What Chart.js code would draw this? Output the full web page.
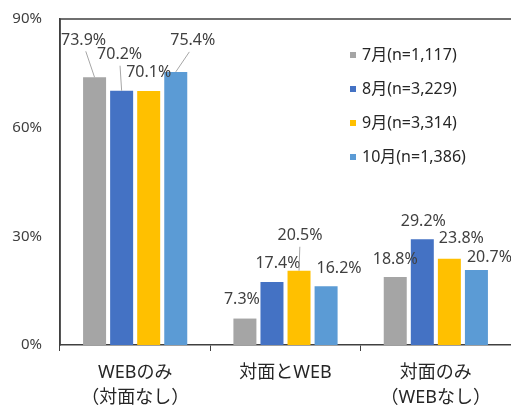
<!DOCTYPE html>
<html>
<head>
<meta charset="utf-8">
<script src="https://cdn.jsdelivr.net/npm/chart.js@4"></script>
<style>
body { margin: 0; background: #fff; }
</style>
</head>
<body>
<canvas id="myChart" width="511" height="406"></canvas>
<script>
// data
var categories = [['WEBのみ', '（対面なし）'], '対面とWEB', ['対面のみ', '（WEBなし）']];
var months = ['7月(n=1,117)', '8月(n=3,229)', '9月(n=3,314)', '10月(n=1,386)'];
var jul = [73.9, 7.3, 18.8];
var aug = [70.2, 17.4, 29.2];
var sep = [70.1, 20.5, 23.8];
var oct = [75.4, 16.2, 20.7];
var yTicks = [0, 30, 60, 90];

var colors = ['#a5a5a5', '#4472c4', '#ffc000', '#5b9bd5'];

// label offsets from bar top [dx, dy, leader line]
var labelPos = [
    [[-11, -37, true], [-3, -19, false], [0, -17, false]],
    [[-2, -36, true], [6, -19, false], [1, -18, false]],
    [[0, -19, false], [1, -35, true], [12, -20, false]],
    [[17, -31, true], [13, -18, false], [13, -13, false]]
];

var font = '"Noto Sans", "Noto Sans CJK JP", sans-serif';

var labelPlugin = {
    id: 'labels',
    afterDatasetsDraw: function (chart) {
        var ctx = chart.ctx;
        ctx.save();
        ctx.font = '16px ' + font;
        ctx.fillStyle = '#404040';
        ctx.textAlign = 'center';
        ctx.textBaseline = 'middle';
        chart.data.datasets.forEach(function (ds, i) {
            var meta = chart.getDatasetMeta(i);
            meta.data.forEach(function (bar, j) {
                var p = labelPos[i][j];
                var lx = bar.x + p[0], ly = bar.y + p[1];
                if (p[2]) {
                    ctx.strokeStyle = '#a6a6a6';
                    ctx.lineWidth = 1;
                    ctx.beginPath();
                    ctx.moveTo(lx + (bar.x - lx) * 0.2, ly + 11);
                    ctx.lineTo(bar.x, bar.y);
                    ctx.stroke();
                }
                ctx.fillText(ds.data[j].toFixed(1) + '%', lx, ly);
            });
        });
        // frame
        var a = chart.chartArea;
        ctx.strokeStyle = '#404040';
        ctx.lineWidth = 1.5;
        ctx.beginPath();
        ctx.moveTo(a.left, a.bottom);
        ctx.lineTo(a.left, a.top);
        ctx.lineTo(a.right, a.top);
        ctx.stroke();
        // legend
        ctx.textAlign = 'left';
        chart.data.datasets.forEach(function (ds, i) {
            var y = 55 + i * 34;
            ctx.fillStyle = ds.backgroundColor;
            ctx.fillRect(350, y - 3, 6, 6);
            ctx.fillStyle = '#262626';
            ctx.fillText(ds.label, 362, y);
        });
        ctx.restore();
    }
};

var series = [jul, aug, sep, oct];
var chartdata = {
    labels: categories,
    datasets: series.map(function (s, i) {
        return {
            label: months[i],
            data: s,
            backgroundColor: colors[i],
            categoryPercentage: 0.72,
            barPercentage: 0.85
        };
    })
};

var ctx = document.getElementById('myChart');
var myChart = new Chart(ctx, {
    type: 'bar',
    data: chartdata,
    plugins: [labelPlugin],
    options: {
        responsive: false,
        animation: false,
        layout: { padding: { top: 6, right: 0, left: 0, bottom: 0 } },
        plugins: { legend: { display: false }, tooltip: { enabled: false } },
        scales: {
            x: {
                grid: { drawOnChartArea: false, tickLength: 6, color: '#404040', offset: true },
                border: { color: '#404040', width: 1.5 },
                ticks: { color: '#262626', font: { size: 18, family: font, lineHeight: 1.35 }, padding: 10, maxRotation: 0 },
                afterFit: function (s) { s.height = 61; }
            },
            y: {
                min: 0,
                max: 90,
                afterBuildTicks: function (s) { s.ticks = yTicks.map(function (v) { return { value: v }; }); },
                grid: { display: false },
                border: { color: '#404040', width: 1.5 },
                ticks: {
                    color: '#404040',
                    font: { size: 15, family: font },
                    padding: 10,
                    callback: function (v) { return v + '%'; }
                },
                afterFit: function (s) { s.width = 60; }
            }
        }
    }
});
</script>
</body>
</html>
